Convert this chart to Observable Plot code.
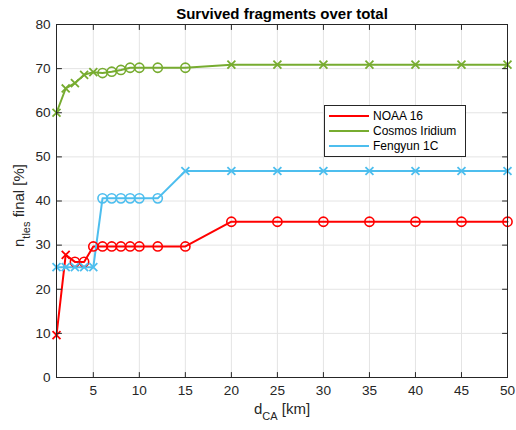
<!DOCTYPE html>
<html>
<head>
<meta charset="utf-8">
<script src="https://cdn.jsdelivr.net/npm/d3@7"></script>
<script src="https://cdn.jsdelivr.net/npm/@observablehq/plot@0.6"></script>
<style>
  body { margin: 0; background: #fff; }
  #chart svg { font-family: "Liberation Sans", Arial, Helvetica, sans-serif; }
</style>
</head>
<body>
<div id="chart"></div>
<script>
// Close-approach distance thresholds [km]
const dCA = [1, 2, 3, 4, 5, 6, 7, 8, 9, 10, 12, 15, 20, 25, 30, 35, 40, 45, 50];

// Share of fragments surviving [%]
const noaa16  = [9.6, 27.8, 26.2, 26.2, 29.7, 29.7, 29.7, 29.7, 29.7, 29.7, 29.7, 29.7, 35.3, 35.3, 35.3, 35.3, 35.3, 35.3, 35.3];
const cosmosIridium = [60.0, 65.5, 66.7, 68.6, 69.2, 69.0, 69.3, 69.7, 70.2, 70.2, 70.2, 70.2, 70.9, 70.9, 70.9, 70.9, 70.9, 70.9, 70.9];
const fengyun1C = [25.0, 25.0, 25.0, 25.0, 25.0, 40.6, 40.6, 40.6, 40.6, 40.6, 40.6, 46.8, 46.8, 46.8, 46.8, 46.8, 46.8, 46.8, 46.8];

const seriesNames = ["NOAA 16", "Cosmos Iridium", "Fengyun 1C"];
const xTicks = [5, 10, 15, 20, 25, 30, 35, 40, 45, 50];
const yTicks = [0, 10, 20, 30, 40, 50, 60, 70, 80];

// Marker style per point ("x" cross, "o" circle)
const noaaMarkers    = "xxooooooooooooooooo".split("");
const cosmosMarkers  = "xxxxxoooooooxxxxxxx".split("");
const fengyunMarkers = "xxxxxooooooxxxxxxxx".split("");

const colors = ["#ff0000", "#77ac30", "#4dbeee"];

const series = [
  {name: seriesNames[0], values: noaa16, markers: noaaMarkers},
  {name: seriesNames[1], values: cosmosIridium, markers: cosmosMarkers},
  {name: seriesNames[2], values: fengyun1C, markers: fengyunMarkers}
];
const rows = series.flatMap(s => s.values.map((v, i) => ({name: s.name, x: dCA[i], y: v, m: s.markers[i]})));

const axisColor = "#262626";
const gridColor = "#e4e4e4";
const font = "Liberation Sans, Arial, sans-serif";

// straight tick segment pointing from the anchor point into the plot
const tickShape = {draw(context, l) { context.moveTo(0, 0); context.lineTo(0, -l); }};
const inwardTicks = (data, opts) => Plot.vector(data, {length: 5, anchor: "start", shape: tickShape, stroke: axisColor, strokeWidth: 1, ...opts});

const chart = Plot.plot({
  width: 516,
  height: 430,
  marginLeft: 56,
  marginRight: 9,
  marginTop: 24,
  marginBottom: 53,
  style: {fontSize: "13.6px", fontFamily: font, color: "#262626", background: "#fff"},
  x: {domain: [1, 50], label: null},
  y: {domain: [0, 80], label: null},
  color: {domain: seriesNames, range: colors},
  marks: [
    Plot.gridX(xTicks, {stroke: gridColor, strokeOpacity: 1}),
    Plot.gridY(yTicks, {stroke: gridColor, strokeOpacity: 1}),
    Plot.line(rows, {x: "x", y: "y", z: "name", stroke: "name", strokeWidth: 2}),
    Plot.dot(rows.filter(d => d.m === "o"), {x: "x", y: "y", stroke: "name", r: 4.6, strokeWidth: 1.6, fill: "none", symbol: "circle"}),
    Plot.dot(rows.filter(d => d.m === "x"), {x: "x", y: "y", stroke: "name", r: 3.7, strokeWidth: 1.8, symbol: "times"}),
    Plot.frame({stroke: axisColor, strokeWidth: 1}),
    // inward tick marks on all four sides
    inwardTicks(xTicks, {x: d => d, y: () => 0, rotate: 0}),
    inwardTicks(xTicks, {x: d => d, y: () => 80, rotate: 180}),
    inwardTicks(yTicks, {x: () => 1, y: d => d, rotate: 90}),
    inwardTicks(yTicks, {x: () => 50, y: d => d, rotate: -90}),
    // tick labels
    Plot.axisX(xTicks, {anchor: "bottom", tickSize: 0, tickPadding: 8, label: null, fill: "#262626"}),
    Plot.axisY(yTicks, {anchor: "left", tickSize: 0, tickPadding: 6, label: null, fill: "#262626"})
  ]
});

document.getElementById("chart").appendChild(chart);

// Title, axis labels with subscripts, and legend box
const svg = d3.select(chart);

svg.append("text")
  .attr("x", 282).attr("y", 19)
  .attr("text-anchor", "middle")
  .attr("font-family", font).attr("font-size", 15).attr("font-weight", "bold").attr("fill", "#000")
  .text("Survived fragments over total");

const xl = svg.append("text")
  .attr("x", 282).attr("y", 414)
  .attr("text-anchor", "middle")
  .attr("font-family", font).attr("font-size", 15).attr("fill", "#262626");
xl.append("tspan").text("d");
xl.append("tspan").attr("font-size", 11).attr("dy", 6).text("CA");
xl.append("tspan").attr("dy", -6).text(" [km]");

const yl = svg.append("text")
  .attr("transform", "translate(23.5,205.5) rotate(-90)")
  .attr("text-anchor", "middle")
  .attr("font-family", font).attr("font-size", 15).attr("fill", "#262626");
yl.append("tspan").text("n");
yl.append("tspan").attr("font-size", 11).attr("dy", 6).text("tles");
yl.append("tspan").attr("dy", -6).text(" final [%]");

const lg = svg.append("g").attr("font-family", font).attr("font-size", 12).attr("text-anchor", "start");
lg.append("rect")
  .attr("x", 324.5).attr("y", 105.5).attr("width", 141).attr("height", 51)
  .attr("fill", "#fff").attr("stroke", "#262626").attr("stroke-width", 1);
seriesNames.forEach((name, i) => {
  const y = 116 + i * 15;
  lg.append("line").attr("x1", 329).attr("x2", 369).attr("y1", y).attr("y2", y)
    .attr("stroke", colors[i]).attr("stroke-width", 2);
  lg.append("text").attr("x", 373).attr("y", y).attr("dy", "0.35em")
    .attr("fill", "#000").text(name);
});
</script>
</body>
</html>
